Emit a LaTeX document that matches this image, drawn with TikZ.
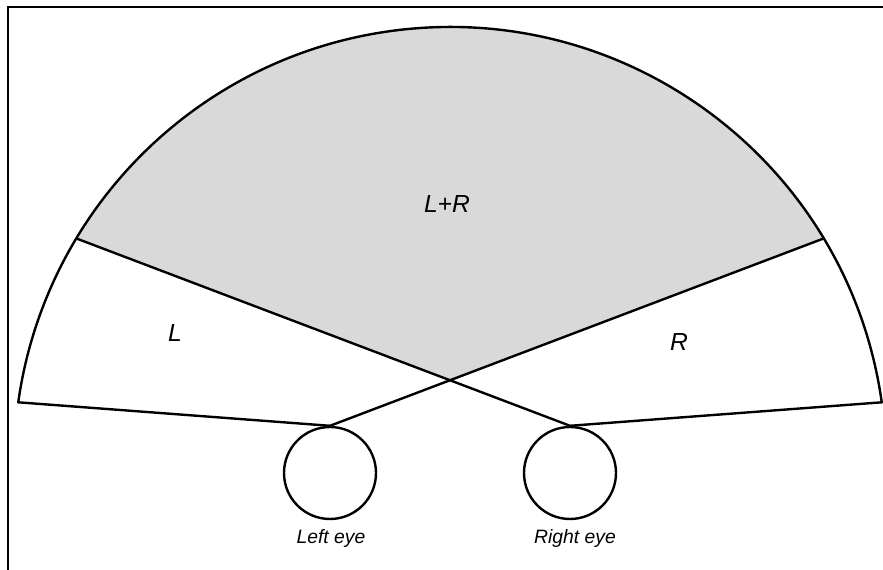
\documentclass[tikz,border=0pt]{standalone}
\usepackage{fontspec}
\setmainfont{Liberation Sans}
\usetikzlibrary{calc}
\definecolor{shadegray}{RGB}{217,217,217}
\begin{document}
\begin{tikzpicture}[x=0.75pt,y=0.75pt,
  shapeline/.style={line width=1.8pt, line join=round, line cap=round},
  eyebox/.style={circle, draw, line width=1.8pt, minimum size=69pt, inner sep=0pt},
  biglabel/.style={font=\fontsize{18.5}{21}\selectfont\itshape, inner sep=0pt},
  eyelabel/.style={font=\fontsize{14.5}{16}\selectfont\itshape, inner sep=0pt}]
\useasboundingbox (0,0) rectangle (883,570);
% frame
\draw[line width=1.5pt] (7.5,0) -- (7.5,562.5) -- (883,562.5);
% geometry
\coordinate (C) at (450,107);
\coordinate (AL) at ([shift={(172:436)}]C);
\coordinate (AR) at ([shift={(8:436)}]C);
\coordinate (JL) at ([shift={(149:436)}]C);
\coordinate (JR) at ([shift={(31:436)}]C);
\node[eyebox] (eyeL) at (330,97) {};
\node[eyebox] (eyeR) at (570,97) {};
\coordinate (X) at (intersection of eyeL.north--JR and eyeR.north--JL);
% shaded binocular region
\fill[shadegray] (X) -- (JR) arc[start angle=31, end angle=149, radius=436] -- cycle;
% outer arc
\draw[shapeline] (AR) arc[start angle=8, end angle=172, radius=436];
% lines
\draw[shapeline] (AL) -- (eyeL.north);
\draw[shapeline] (eyeL.north) -- (JR);
\draw[shapeline] (eyeR.north) -- (JL);
\draw[shapeline] (eyeR.north) -- (AR);
% labels
\node[biglabel] (lr) at (447,366) {L+R};
\node[biglabel] (l) at (175,237) {L};
\node[biglabel] (r) at (679,228) {R};
\node[eyelabel] (le) at (331,31) {Left eye};
\node[eyelabel] (re) at (575,31) {Right eye};
\end{tikzpicture}
\end{document}
